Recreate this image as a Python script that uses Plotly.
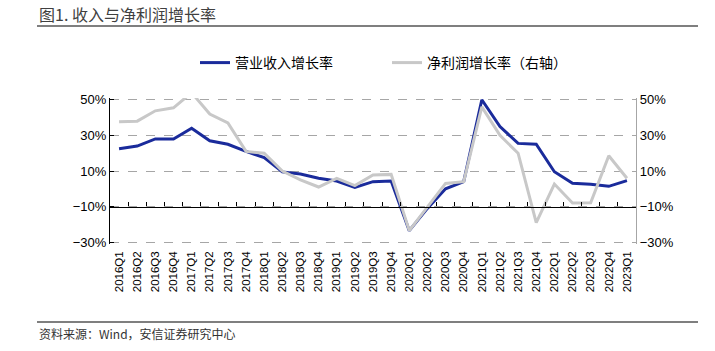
import plotly.graph_objects as go

quarters = ["2016Q1", "2016Q2", "2016Q3", "2016Q4",
            "2017Q1", "2017Q2", "2017Q3", "2017Q4",
            "2018Q1", "2018Q2", "2018Q3", "2018Q4",
            "2019Q1", "2019Q2", "2019Q3", "2019Q4",
            "2020Q1", "2020Q2", "2020Q3", "2020Q4",
            "2021Q1", "2021Q2", "2021Q3", "2021Q4",
            "2022Q1", "2022Q2", "2022Q3", "2022Q4",
            "2023Q1"]
revenue_growth = [22.5, 24, 28, 28,
                  34, 27, 25, 21,
                  17.5, 9.5, 8.3, 5.9,
                  4.4, 0.8, 4.0, 4.4,
                  -23.5, -11, 0, 4,
                  50, 35, 25.5, 25,
                  9.6, 3.1, 2.5, 1.4,
                  4.6]
profit_growth = [37.6, 38, 43.8, 45.5,
                 54, 42, 37, 21,
                 20, 10, 5, 1,
                 5.9, 1.8, 7.8, 8.1,
                 -23.5, -10, 3, 4,
                 46, 30, 20, -19,
                 2.7, -8, -7.8, 18.6,
                 5.9]
y_ticks = [-30, -10, 10, 30, 50]
y_tick_labels = ["\u221230%", "\u221210%", "10%", "30%", "50%"]

W_FIG, H_FIG = 715, 351
ML, MR, MT, MB = 110, 79, 98, 107
PW = W_FIG - ML - MR
PH = H_FIG - MT - MB


def px_x(p):
    return (p - ML) / PW


def px_y(p):
    return (H_FIG - MB - p) / PH


YMIN, YMAX = -31.0, 51.0
base_pos = (-10 - YMIN) / (YMAX - YMIN)

BLUE = "#1a2b9b"
GRAY = "#c8c8c8"
tick_font = dict(family="Liberation Sans, Arial", size=13, color="#000000")

fig = go.Figure()
fig.add_trace(go.Scatter(x=quarters, y=revenue_growth, mode="lines",
                         name="营业收入增长率",
                         line=dict(color=BLUE, width=3),
                         xaxis="x", yaxis="y"))
fig.add_trace(go.Scatter(x=quarters, y=profit_growth, mode="lines",
                         name="净利润增长率（右轴）",
                         line=dict(color=GRAY, width=3),
                         xaxis="x2", yaxis="y2"))

fig.update_layout(
    width=W_FIG, height=H_FIG,
    margin=dict(l=ML, r=MR, t=MT, b=MB, pad=0),
    plot_bgcolor="white", paper_bgcolor="white",
    showlegend=True,
    legend=dict(orientation="h", xref="container", yref="container",
                x=195 / W_FIG, y=1 - 47 / H_FIG, xanchor="left", yanchor="top",
                entrywidth=147, entrywidthmode="pixels",
                font=dict(family="Noto Sans CJK SC", size=14, color="#000000"),
                bgcolor="rgba(0,0,0,0)"),
    xaxis=dict(type="category", domain=[0, 1], range=[-0.5, len(quarters) - 0.5],
               anchor="y", showline=False, ticks="", showgrid=False,
               tickangle=-90, ticklabelstandoff=4,
               tickfont=dict(family="Liberation Sans, Arial", size=11.5, color="#000000"),
               zeroline=False),
    xaxis2=dict(type="category", overlaying="x", anchor="free", position=base_pos,
                range=[-0.5, len(quarters) - 0.5],
                showline=True, linecolor="#000000", linewidth=1.3,
                ticks="inside", tickson="boundaries", ticklen=4, tickcolor="#000000",
                showticklabels=False, showgrid=False, zeroline=False),
    yaxis=dict(range=[YMIN, YMAX], tickvals=y_ticks, ticktext=y_tick_labels,
               showline=True, linecolor="#000000", linewidth=1.3,
               ticks="inside", ticklen=4, tickcolor="#000000",
               showgrid=True, gridcolor="#a6a6a6", griddash="dash", gridwidth=1,
               zeroline=False, tickfont=tick_font, anchor="x", side="left"),
    yaxis2=dict(range=[YMIN, YMAX], tickvals=y_ticks, ticktext=y_tick_labels,
                overlaying="y", side="right", anchor="x",
                showline=True, linecolor="#a6a6a6", linewidth=1.3,
                ticks="inside", ticklen=4, tickcolor="#a6a6a6",
                showgrid=False, zeroline=False, tickfont=tick_font),
)

# header / footer
fig.add_annotation(text="图1. 收入与净利润增长率", xref="paper", yref="paper",
                   x=px_x(37), y=px_y(14), xanchor="left", yanchor="middle",
                   showarrow=False,
                   font=dict(family="Noto Sans CJK SC", size=16, color="#404040"))
fig.add_annotation(text="资料来源：Wind，安信证券研究中心", xref="paper", yref="paper",
                   x=px_x(37), y=px_y(333), xanchor="left", yanchor="middle",
                   showarrow=False,
                   font=dict(family="Noto Sans CJK SC", size=12, color="#333333"))
for yy in (26, 322):
    fig.add_shape(type="line", xref="paper", yref="paper",
                  x0=px_x(37), x1=px_x(698), y0=px_y(yy), y1=px_y(yy),
                  line=dict(color="#555555", width=1.5))

fig.write_html("out.html")
